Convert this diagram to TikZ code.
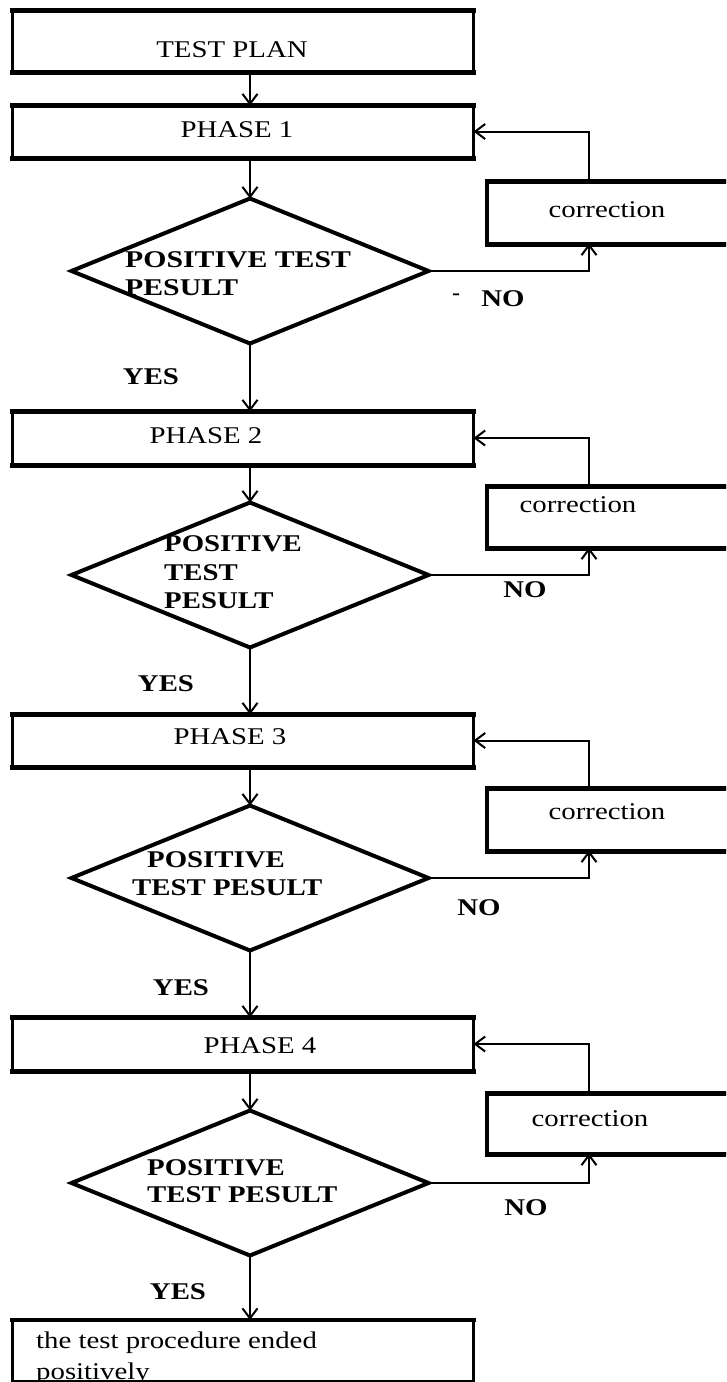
\documentclass[tikz,border=0pt]{standalone}
\usepackage{fontspec}
\usepackage{graphicx}
\setmainfont{Liberation Serif}
\usetikzlibrary{shapes.geometric,arrows.meta}
\newcommand{\sx}[1]{\scalebox{1.2}[1]{#1}}
\begin{document}
\begin{tikzpicture}[x=1pt,y=-1pt,
  box/.style={draw,line width=3.5pt,inner sep=0pt,outer sep=0pt},
  mainbox/.style={box,minimum width=461pt},
  corrbox/.style={box,minimum width=272pt},
  heavyedge/.style={line width=5pt,line cap=rect},
  decision/.style={draw,diamond,line width=4pt,inner sep=0pt,outer sep=0pt,aspect=2.47,minimum width=357pt,minimum height=145pt},
  txt/.style={inner sep=0pt,font=\fontsize{24}{28}\selectfont},
  btxt/.style={inner sep=0pt,font=\fontsize{24}{28}\selectfont\bfseries},
  arr/.style={line width=2pt,-{Straight Barb[length=10pt,width=15pt,line width=2pt]}}]
\clip (0,0) rectangle (726,1382);
\fill[white] (0,0) rectangle (726,1382);
% columns
\coordinate (mx) at (250,0);
\coordinate (fx) at (589,0);
% main boxes
\node[mainbox,minimum height=61pt] (tp) at (243,41) {};
\node[mainbox,minimum height=52pt] (p1) at (243,131.5) {};
\node[mainbox,minimum height=53pt] (p2) at (243,438) {};
\node[mainbox,minimum height=52pt] (p3) at (243,740.5) {};
\node[mainbox,minimum height=53pt] (p4) at (243,1044) {};
\node[mainbox,minimum height=62pt] (fin) at (243,1351) {};
% correction boxes
\node[corrbox,minimum height=62pt] (c1) at (623,212.5) {};
\node[corrbox,minimum height=61pt] (c2) at (623,517) {};
\node[corrbox,minimum height=62pt] (c3) at (623,819.5) {};
\node[corrbox,minimum height=60pt] (c4) at (623,1123.5) {};
% heavier bottom and top edges of the boxes
\foreach \n in {tp,p1,p2,p3,p4,c1,c2,c3,c4}{
  \draw[heavyedge] ([yshift=-0.8pt]\n.south west) -- ([yshift=-0.8pt]\n.south east);
}
\foreach \n in {tp,p1,p2,p3,p4,fin,c1,c2,c3,c4}{
  \draw[line width=4.2pt,line cap=rect] (\n.north west) -- (\n.north east);
}
% decisions
\node[decision] (d1) at (250,271) {};
\node[decision] (d2) at (250,575) {};
\node[decision] (d3) at (250,878) {};
\node[decision] (d4) at (250,1183) {};
% texts
\node[txt,anchor=base] (ttp) at (232,57.5) {\sx{TEST PLAN}};
\node[txt,anchor=base] (tp1) at (237,137) {\sx{PHASE 1}};
\node[txt,anchor=base] (tp2) at (206,443) {\sx{PHASE 2}};
\node[txt,anchor=base] (tp3) at (230,744) {\sx{PHASE 3}};
\node[txt,anchor=base] (tp4) at (260,1053) {\sx{PHASE 4}};
\node[txt,anchor=base] (tc1) at (607,217) {\sx{correction}};
\node[txt,anchor=base] (tc2) at (578,512) {\sx{correction}};
\node[txt,anchor=base] (tc3) at (607,819) {\sx{correction}};
\node[txt,anchor=base] (tc4) at (590,1126) {\sx{correction}};
\node[btxt,anchor=base west] (td1a) at (125,267) {\scalebox{1.24}[1]{POSITIVE TEST}};
\node[btxt,anchor=base west] (td1b) at (125,295) {\scalebox{1.24}[1]{PESULT}};
\node[btxt,anchor=base west] (td2a) at (164,551) {\sx{POSITIVE}};
\node[btxt,anchor=base west] (td2b) at (164,580) {\sx{TEST}};
\node[btxt,anchor=base west] (td2c) at (164,608) {\sx{PESULT}};
\node[btxt,anchor=base west] (td3a) at (147,867) {\sx{POSITIVE}};
\node[btxt,anchor=base west] (td3b) at (132,895) {\sx{TEST PESULT}};
\node[btxt,anchor=base west] (td4a) at (147,1175) {\sx{POSITIVE}};
\node[btxt,anchor=base west] (td4b) at (147,1202) {\sx{TEST PESULT}};
\node[txt,anchor=base west] (tfa) at (36,1348) {\sx{the test procedure ended}};
\node[txt,anchor=base west] (tfb) at (36,1379) {\sx{positively}};
% labels
\node[txt,anchor=base] (dash1) at (456,300) {-};
\node[btxt,anchor=base] (no1) at (503,306) {\sx{NO}};
\node[btxt,anchor=base] (no2) at (525,597) {\sx{NO}};
\node[btxt,anchor=base] (no3) at (479,915) {\sx{NO}};
\node[btxt,anchor=base] (no4) at (526,1215) {\sx{NO}};
\node[btxt,anchor=base] (yes1) at (151,384) {\sx{YES}};
\node[btxt,anchor=base] (yes2) at (166,691) {\sx{YES}};
\node[btxt,anchor=base] (yes3) at (181,995) {\sx{YES}};
\node[btxt,anchor=base] (yes4) at (178,1299) {\sx{YES}};
% final box bottom edge, over the cut text
\draw[line width=1.5pt] (fin.west |- 0,1381) -- (fin.east |- 0,1381);
% main flow
\draw[arr] (tp.south -| mx) -- (p1.north -| mx);
\draw[arr] (p1.south -| mx) -- (d1.north);
\draw[arr] (d1.south) -- (p2.north -| mx);
\draw[arr] (p2.south -| mx) -- (d2.north);
\draw[arr] (d2.south) -- (p3.north -| mx);
\draw[arr] (p3.south -| mx) -- (d3.north);
\draw[arr] (d3.south) -- (p4.north -| mx);
\draw[arr] (p4.south -| mx) -- (d4.north);
\draw[arr] (d4.south) -- (fin.north -| mx);
% NO branches
\draw[arr] (d1.east) -| (c1.south -| fx);
\draw[arr] (d2.east) -| (c2.south -| fx);
\draw[arr] (d3.east) -| (c3.south -| fx);
\draw[arr] (d4.east) -| (c4.south -| fx);
% feedback
\draw[arr] (c1.north -| fx) |- (p1.east);
\draw[arr] (c2.north -| fx) |- (p2.east);
\draw[arr] (c3.north -| fx) |- (p3.east);
\draw[arr] (c4.north -| fx) |- (p4.east);
\end{tikzpicture}
\end{document}
